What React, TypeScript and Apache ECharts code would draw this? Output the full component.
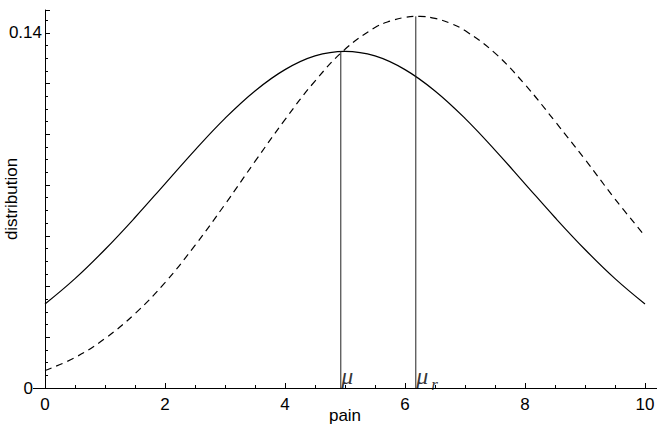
import React, { useEffect, useRef } from "react";
import * as echarts from "echarts";

const solidX = [0, 0.5, 1, 1.5, 2, 2.5, 3, 3.5, 4, 4.5, 5, 5.5, 6, 6.5, 7, 7.5, 8, 8.5, 9, 9.5, 10];
const solidValues = [0.0331, 0.0431, 0.0546, 0.0672, 0.0805, 0.0938, 0.1063, 0.1171, 0.1255, 0.1309, 0.1327, 0.1309, 0.1255, 0.1171, 0.1063, 0.0938, 0.0805, 0.0672, 0.0546, 0.0431, 0.0331];
const dashedX = [0, 0.5, 1, 1.5, 2, 2.5, 3, 3.5, 4, 4.5, 5, 5.5, 5.75, 6, 6.25, 6.5, 6.75, 7, 7.5, 8, 8.5, 9, 9.5, 10];
const dashedValues = [0.0069, 0.012, 0.0195, 0.0293, 0.0415, 0.0562, 0.0724, 0.0893, 0.1058, 0.121, 0.1335, 0.1421, 0.1446, 0.1461, 0.1465, 0.1457, 0.1438, 0.1409, 0.132, 0.1196, 0.1051, 0.0901, 0.0745, 0.0599];
const muX = 4.93;
const muY = 0.1327;
const muRX = 6.18;
const muRY = 0.1465;
const yLabelValues = [0, 0.14];
const xName = "pain";
const yName = "distribution";

const SANS = "'Liberation Sans', Arial, sans-serif";
const SERIF = "'Liberation Serif', 'Times New Roman', serif";

export default function App() {
  const ref = useRef<HTMLDivElement>(null);
  useEffect(() => {
    document.body.style.margin = "0";
    if (!ref.current) return;
    const chart = echarts.init(ref.current, undefined, { renderer: "svg" });
    const solid = solidX.map((x, i) => [x, solidValues[i]]);
    const dashed = dashedX.map((x, i) => [x, dashedValues[i]]);
    chart.setOption({
      animation: false,
      backgroundColor: "#fff",
      grid: { left: 45, right: 23, top: 10, bottom: 36, containLabel: false, outerBoundsMode: "none" },
      xAxis: {
        type: "value",
        min: 0,
        max: 10,
        interval: 2,
        name: xName,
        nameLocation: "middle",
        nameGap: 19,
        nameMoveOverlap: false,
        nameTextStyle: { fontFamily: SANS, fontSize: 17, color: "#000" },
        axisLine: { show: true, onZero: false, lineStyle: { color: "#000", width: 1 } },
        axisTick: { show: true, inside: true, length: 5, lineStyle: { color: "#000" } },
        minorTick: { show: true, splitNumber: 4, length: 3, lineStyle: { color: "#000" } },
        splitLine: { show: false },
        axisLabel: { color: "#000", fontFamily: SANS, fontSize: 17, margin: 8 },
      },
      yAxis: {
        type: "value",
        min: 0,
        max: 0.149,
        interval: 0.02,
        name: yName,
        nameLocation: "middle",
        nameGap: 25,
        nameMoveOverlap: false,
        nameTextStyle: { fontFamily: SANS, fontSize: 17, color: "#000" },
        axisLine: { show: true, onZero: false, lineStyle: { color: "#000", width: 1 } },
        axisTick: { show: true, inside: true, length: 5, lineStyle: { color: "#000" } },
        minorTick: { show: true, splitNumber: 4, length: 3, lineStyle: { color: "#000" } },
        splitLine: { show: false },
        axisLabel: {
          color: "#000",
          fontFamily: SANS,
          fontSize: 17,
          margin: 3,
          showMaxLabel: false,
          formatter: (v: number) => {
            const hit = yLabelValues.find((t) => Math.abs(t - v) < 1e-9);
            if (hit === undefined) return "";
            return hit === 0 ? "{z|0}" : String(hit);
          },
          rich: { z: { fontFamily: SANS, fontSize: 17, color: "#000", padding: [0, 9, 0, 0] } },
        },
      },
      graphic: [
        { type: "line", z: 10, shape: { x1: 33, y1: 388.5, x2: 45, y2: 388.5 }, style: { stroke: "#000", lineWidth: 1 } },
        { type: "line", z: 10, shape: { x1: 645, y1: 388.5, x2: 657, y2: 388.5 }, style: { stroke: "#000", lineWidth: 1 } },
      ],
      series: [
        {
          type: "line",
          data: solid,
          showSymbol: false,
          smooth: 0.4,
          lineStyle: { color: "#000", width: 1.2 },
          silent: true,
        },
        {
          type: "line",
          data: dashed,
          showSymbol: false,
          smooth: 0.4,
          lineStyle: { color: "#000", width: 1.2, type: [7, 5] },
          silent: true,
        },
        {
          type: "line",
          data: [[muX, 0], [muX, muY]],
          showSymbol: false,
          lineStyle: { color: "#222", width: 1 },
          silent: true,
        },
        {
          type: "line",
          data: [[muRX, 0], [muRX, muRY]],
          showSymbol: false,
          lineStyle: { color: "#222", width: 1 },
          silent: true,
        },
        {
          type: "scatter",
          symbolSize: 1,
          itemStyle: { color: "rgba(0,0,0,0)" },
          silent: true,
          data: [
            { value: [muX, 0], label: { formatter: "{m|μ}" } },
            { value: [muRX, 0], label: { formatter: "{m|μ}{s|r}" } },
          ],
          label: {
            show: true,
            position: [1, -24],
            rich: {
              m: { fontFamily: SERIF, fontStyle: "italic", fontSize: 24, color: "#000", lineHeight: 24, verticalAlign: "bottom" },
              s: { fontFamily: SERIF, fontStyle: "italic", fontSize: 17, color: "#000", lineHeight: 24, verticalAlign: "bottom", padding: [0, 0, -5, 3] },
            },
          },
        },
      ],
    });
    return () => chart.dispose();
  }, []);
  return <div ref={ref} style={{ width: 668, height: 424 }} />;
}
